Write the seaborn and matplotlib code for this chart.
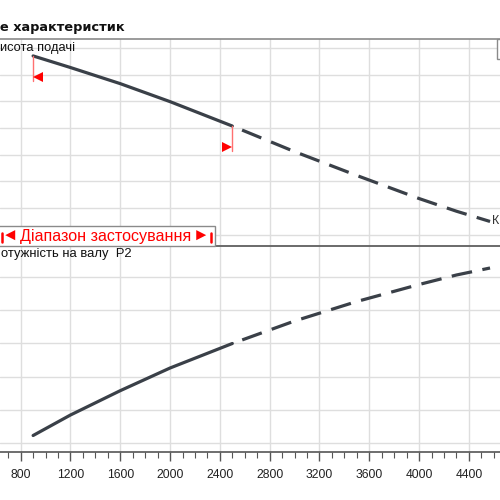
import matplotlib
matplotlib.use('Agg')
import matplotlib.pyplot as plt
from matplotlib.patches import Rectangle
from matplotlib.ticker import MultipleLocator
import seaborn as sns
import pandas as pd

# Pump curve data
flow = [900, 1200, 1600, 2000, 2500, 3000, 3500, 4000, 4300, 4570]
head = [17.41, 16.54, 15.33, 13.98, 12.15, 10.23, 8.44, 6.71, 5.76, 4.99]
power = [0.447, 0.57, 0.716, 0.852, 0.999, 1.134, 1.251, 1.353, 1.41, 1.452]
range_start = 900
range_end = 2500
x_ticks = [800, 1200, 1600, 2000, 2400, 2800, 3200, 3600, 4000, 4400]

sns.set_theme(style="whitegrid")
plt.rcParams['font.family'] = ['Liberation Sans', 'DejaVu Sans']

df = pd.DataFrame({'flow': flow, 'head': head, 'power': power})
inside = df[df['flow'] <= range_end]
outside = df[df['flow'] >= range_end]

curve_color = '#3a4048'
grid_color = '#dedede'
dash_gap = (6.5, (6.5, 3.3))  # starts with a gap after the solid part

fig = plt.figure(figsize=(5, 5), dpi=100)
ax1 = fig.add_axes([0, 0.508, 1, 0.414])
ax2 = fig.add_axes([0, 0.096, 1, 0.412])

for ax in (ax1, ax2):
    ax.set_xlim(634, 4650)
    ax.set_xticks(x_ticks)
    ax.grid(True, color=grid_color, linewidth=1.0)
    for s in ('left', 'right'):
        ax.spines[s].set_visible(False)

# upper panel: head
sns.lineplot(data=inside, x='flow', y='head', ax=ax1, color=curve_color,
             linewidth=2.3)
sns.lineplot(data=outside, x='flow', y='head', ax=ax1, color=curve_color,
             linewidth=2.3, linestyle=dash_gap)
ax1.set_ylim(3.15, 18.68)
ax1.set_yticks([4, 6, 8, 10, 12, 14, 16, 18])
ax1.tick_params(labelbottom=False, labelleft=False, length=0)
ax1.spines['top'].set_color('#8a8a8a')
ax1.spines['top'].set_linewidth(1.2)
ax1.spines['bottom'].set_visible(False)
ax1.set_xlabel('')
ax1.set_ylabel('')

# range markers
h0 = head[flow.index(range_start)]
h1 = head[flow.index(range_end)]
ax1.plot([range_start, range_start], [h0, h0 - 1.88], color='#ff7070', lw=1.0)
ax1.plot([range_end, range_end], [h1, h1 - 1.85], color='#ff7070', lw=1.0)
ax1.plot([range_start + 40], [h0 - 1.58], marker='<', color='#ff0000',
         markersize=7.5, markeredgewidth=0)
ax1.plot([range_end - 40], [h1 - 1.55], marker='>', color='#ff0000',
         markersize=7.5, markeredgewidth=0)
ax1.text(4585, head[-1] + 0.05, 'К', fontsize=9, color='#333333',
         va='center', ha='left')

# lower panel: power
sns.lineplot(data=inside, x='flow', y='power', ax=ax2, color=curve_color,
             linewidth=2.3)
sns.lineplot(data=outside, x='flow', y='power', ax=ax2, color=curve_color,
             linewidth=2.3, linestyle=dash_gap)
ax2.set_ylim(0.348, 1.584)
ax2.set_yticks([0.4, 0.6, 0.8, 1.0, 1.2, 1.4])
ax2.xaxis.set_minor_locator(MultipleLocator(100))
ax2.tick_params(axis='y', labelleft=False, length=0)
ax2.tick_params(axis='x', which='major', bottom=True, direction='out', length=6.5,
                width=1.0, color='#555555', labelsize=8.7, labelcolor='#222222', pad=6)
ax2.tick_params(axis='x', which='minor', bottom=True, direction='out', length=4.5,
                width=0.8, color='#555555')
ax2.spines['top'].set_color('#6a6a6a')
ax2.spines['top'].set_linewidth(1.4)
ax2.spines['bottom'].set_color('#555555')
ax2.spines['bottom'].set_linewidth(1.2)
ax2.set_xlabel('')
ax2.set_ylabel('')

# texts
fig.text(0.0, 1 - 27 / 500, 'е характеристик', fontsize=9.3, fontweight='bold',
         family=['DejaVu Sans'], color='#111111', va='center', ha='left')
fig.text(0.0, 1 - 48 / 500, 'исота подачі', fontsize=9.3, color='#111111',
         va='center', ha='left')
fig.text(0.002, 1 - 254 / 500, 'отужність на валу  P2', fontsize=9.4,
         color='#111111', va='center', ha='left')

# application range box
fig.patches.append(Rectangle((-0.01, 1 - 246 / 500), 0.44, 20 / 500,
                             transform=fig.transFigure, facecolor='white',
                             edgecolor='#8a8a8a', linewidth=1.0, zorder=5))
for xp in (1.5, 210.5):
    fig.lines.append(plt.Line2D([xp / 500, xp / 500], [1 - 242 / 500, 1 - 233 / 500],
                                transform=fig.transFigure, color='#ff0000',
                                linewidth=1.8, zorder=6))
fig.text(10 / 500, 1 - 236 / 500, '◄', fontsize=12, color='#ff0000',
         va='center', ha='center', zorder=7)
fig.text(105.5 / 500, 1 - 236 / 500, 'Діапазон застосування', fontsize=11.6,
         color='#ff0000', va='center', ha='center', zorder=7)
fig.text(200.5 / 500, 1 - 236 / 500, '►', fontsize=12, color='#ff0000',
         va='center', ha='center', zorder=7)

# cut-off legend box at top right
fig.patches.append(Rectangle((497 / 500, 1 - 59 / 500), 0.05, 20 / 500,
                             transform=fig.transFigure, facecolor='white',
                             edgecolor='#8a8a8a', linewidth=1.0, zorder=5))

fig.savefig('out.png', dpi=100)
